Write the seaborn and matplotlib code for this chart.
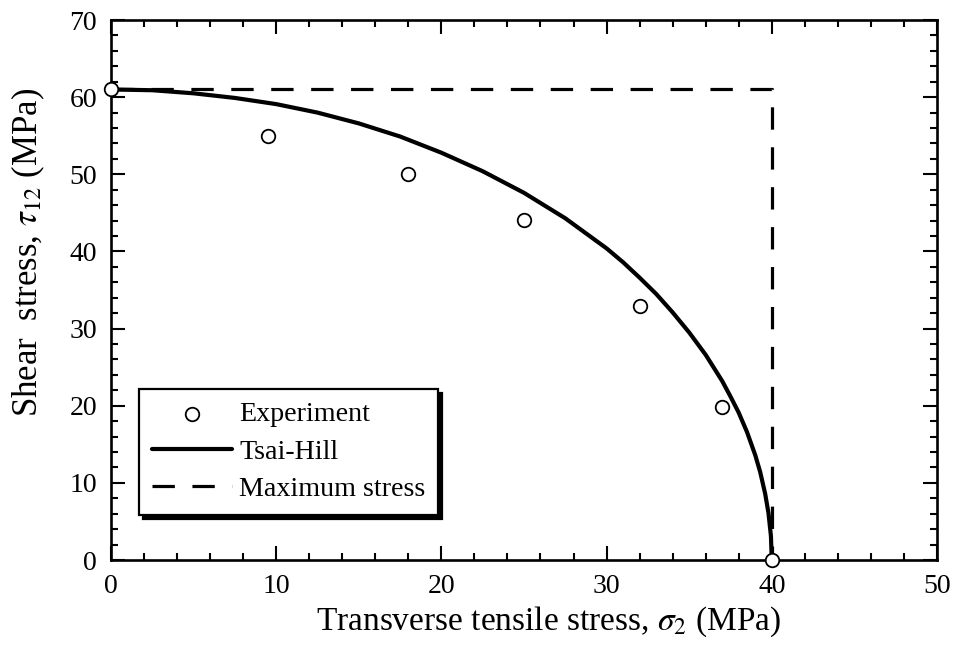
import matplotlib
matplotlib.use("Agg")
import matplotlib.pyplot as plt
from matplotlib.ticker import MultipleLocator
import pandas as pd
import seaborn as sns

# Experimental failure points (transverse tension / in-plane shear)
exp_sigma2 = [0.0, 9.5, 18.0, 25.0, 32.0, 37.0, 40.0]
exp_tau12 = [61.0, 55.0, 50.0, 44.1, 32.9, 19.8, 0.0]

# Tsai-Hill failure envelope
th_sigma2 = [0, 2.5, 5, 7.5, 10, 12.5, 15, 17.5, 20, 22.5, 25, 27.5, 30, 31, 32,
             33, 34, 35, 36, 37, 37.5, 38, 38.5, 39, 39.3, 39.6, 39.8, 39.95, 40]
th_tau12 = [61.0, 60.9, 60.5, 59.9, 59.1, 58.0, 56.6, 54.9, 52.8, 50.4, 47.6,
            44.3, 40.4, 38.6, 36.6, 34.5, 32.1, 29.5, 26.6, 23.2, 21.2, 19.1,
            16.6, 13.6, 11.4, 8.6, 6.1, 3.1, 0.0]

# Maximum stress failure envelope
ms_sigma2 = [0, 40, 40]
ms_tau12 = [61, 61, 0]

x_ticks = [0, 10, 20, 30, 40, 50]
y_ticks = [0, 10, 20, 30, 40, 50, 60, 70]

sns.set_style("ticks")
plt.rcParams["font.family"] = ["Liberation Serif", "DejaVu Serif"]
plt.rcParams["mathtext.fontset"] = "stix"
plt.rcParams["text.color"] = "black"
plt.rcParams["axes.labelcolor"] = "black"

fig = plt.figure(figsize=(9.6, 6.46), dpi=100)
ax = fig.add_axes([0.1156, 0.1331, 0.8604, 0.8359])

exp_df = pd.DataFrame({"s": exp_sigma2, "t": exp_tau12})
th_df = pd.DataFrame({"s": th_sigma2, "t": th_tau12})
ms_df = pd.DataFrame({"s": ms_sigma2, "t": ms_tau12})

sns.lineplot(data=ms_df, x="s", y="t", ax=ax, sort=False, estimator=None,
             color="black", lw=2.3, label="Maximum stress", zorder=2)
ax.lines[-1].set_linestyle((0, (7, 5.5)))
sns.lineplot(data=th_df, x="s", y="t", ax=ax, sort=False, estimator=None,
             color="black", lw=3.0, label="Tsai-Hill", zorder=3)
sns.scatterplot(data=exp_df, x="s", y="t", ax=ax, s=95, marker="o",
                facecolor="white", edgecolor="black", linewidth=1.3,
                label="Experiment", zorder=5, clip_on=False)

ax.set_xlim(0, 50)
ax.set_ylim(0, 70)
ax.set_xticks(x_ticks)
ax.set_yticks(y_ticks)
ax.xaxis.set_minor_locator(MultipleLocator(2))
ax.yaxis.set_minor_locator(MultipleLocator(2))
ax.tick_params(which="both", direction="in", top=True, right=True,
               labelsize=20, pad=10, width=1.5, colors="black")
ax.tick_params(which="major", length=10)
ax.tick_params(which="minor", length=5)
for sp in ax.spines.values():
    sp.set_linewidth(1.9)
    sp.set_color("black")

ax.set_xlabel(r"Transverse tensile stress, $\sigma_2$ (MPa)", fontsize=24, labelpad=4)
ax.set_ylabel(r"Shear  stress, $\tau_{12}$ (MPa)", fontsize=25, labelpad=16)
ax.xaxis.label.set_x(0.530)
ax.yaxis.label.set_y(0.569)

handles, labels = ax.get_legend_handles_labels()
order = [labels.index(n) for n in ["Experiment", "Tsai-Hill", "Maximum stress"]]
leg = ax.legend([handles[i] for i in order], [labels[i] for i in order],
                loc="lower left", bbox_to_anchor=(0.034, 0.084), fontsize=20.2,
                frameon=True, fancybox=False, edgecolor="black",
                handlelength=2.85, handletextpad=0.27, labelspacing=0.42,
                borderpad=0.45, borderaxespad=0.0,
                shadow={"color": "black", "alpha": 1.0, "ox": 3, "oy": -3})
leg.get_frame().set_linewidth(1.6)

fig.savefig("out.png", dpi=100)
